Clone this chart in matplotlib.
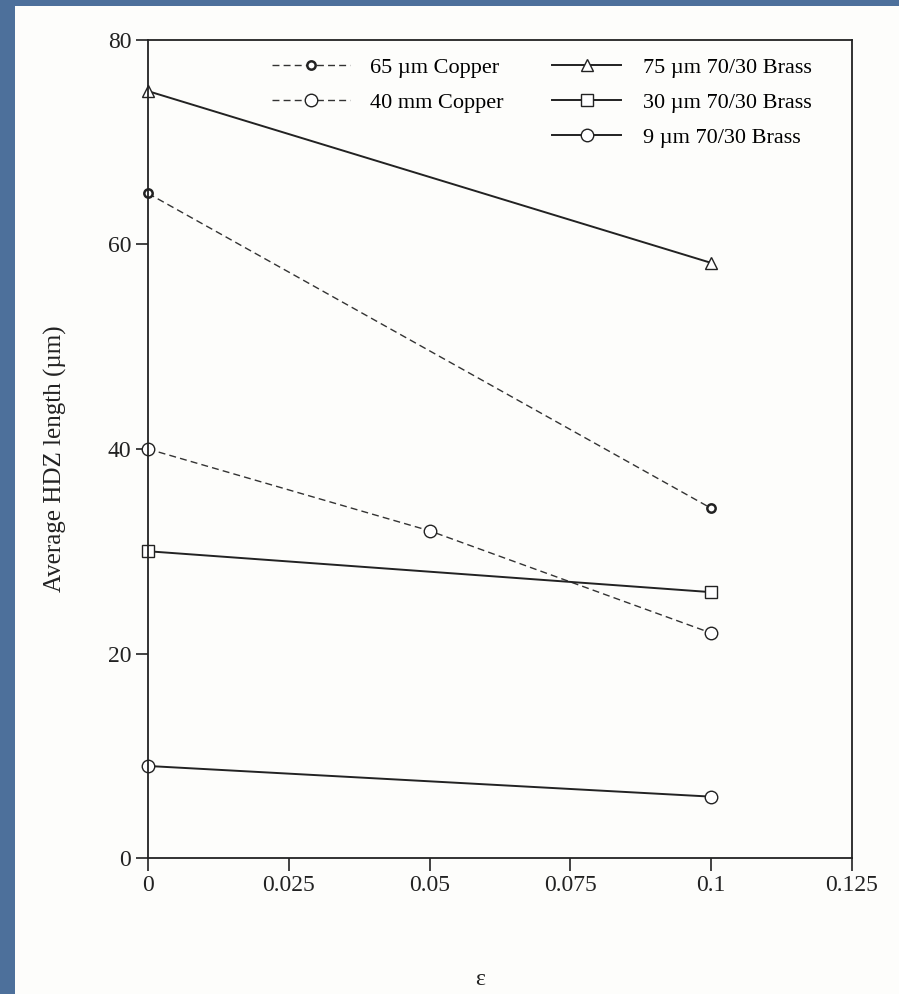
import matplotlib
matplotlib.use("Agg")
import matplotlib.pyplot as plt
from matplotlib.patches import Rectangle

# data
strain_two = [0.0, 0.1]
strain_three = [0.0, 0.05, 0.1]
cu65 = [65.0, 34.2]
cu40 = [40.0, 32.0, 22.0]
br75 = [75.0, 58.2]
br30 = [30.0, 26.0]
br9 = [9.0, 6.0]

x_ticks = [0, 0.025, 0.05, 0.075, 0.1, 0.125]
x_ticklabels = ["0", "0.025", "0.05", "0.075", "0.1", "0.125"]
y_ticks = [0, 20, 40, 60, 80]

plt.rcParams['font.family'] = ['Liberation Serif', 'DejaVu Serif']

fig = plt.figure(figsize=(8.99, 9.94), dpi=100)
fig.patch.set_facecolor('#4d709b')
# white page of the scan, behind the axes
fig.patches.append(Rectangle((15 / 899, 0), 1 - 15 / 899, 1 - 6 / 994,
                             transform=fig.transFigure, facecolor='#fdfdfb',
                             edgecolor='none', zorder=-5))

ax = fig.add_axes([148 / 899, 1 - 858 / 994, (852 - 148) / 899, (858 - 40) / 994])
ax.set_facecolor('#fdfdfb')

dash = (0, (5, 3))
l65, = ax.plot(strain_two, cu65, color='#333333', lw=1.0, linestyle=dash,
               marker='o', ms=6, mfc='white', mec='#222222', mew=1.8,
               label='65 \u00b5m Copper', clip_on=False)
l40, = ax.plot(strain_three, cu40, color='#333333', lw=1.0, linestyle=dash,
               marker='o', ms=9, mfc='white', mec='#222222', mew=1.0,
               label='40 mm Copper', clip_on=False)
l75, = ax.plot(strain_two, br75, color='#222222', lw=1.4, marker='^', ms=9,
               mfc='white', mec='#222222', mew=1.0, label='75 \u00b5m 70/30 Brass',
               clip_on=False)
l30, = ax.plot(strain_two, br30, color='#222222', lw=1.4, marker='s', ms=9,
               mfc='white', mec='#222222', mew=1.0, label='30 \u00b5m 70/30 Brass',
               clip_on=False)
l9, = ax.plot(strain_two, br9, color='#222222', lw=1.4, marker='o', ms=9,
              mfc='white', mec='#222222', mew=1.0, label='9 \u00b5m 70/30 Brass',
              clip_on=False)

ax.set_xlim(0, 0.125)
ax.set_ylim(0, 80)
ax.set_xticks(x_ticks)
ax.set_xticklabels(x_ticklabels)
ax.set_yticks(y_ticks)
ax.tick_params(direction='out', length=9, width=1.2, pad=3, labelsize=17, colors='#222222')
for s in ax.spines.values():
    s.set_linewidth(1.3)
    s.set_color('#222222')

ax.set_ylabel('Average HDZ length (\u00b5m)', fontsize=18, color='#222222')
ax.yaxis.set_label_coords(-0.115, 0.488)
ax.set_xlabel('\u03b5', fontsize=17, color='#222222')
ax.xaxis.set_label_coords(0.472, -0.136)

# copper legend (left) and brass legend (right)
leg1 = ax.legend([l65, l40], [l65.get_label(), l40.get_label()],
                 loc='upper left', bbox_to_anchor=(0.176, 0.979),
                 frameon=False, fontsize=16, handlelength=3.5, handletextpad=0.9,
                 labelspacing=0.66, borderpad=0, borderaxespad=0)
ax.add_artist(leg1)
ax.legend([l75, l30, l9], [l75.get_label(), l30.get_label(), l9.get_label()],
          loc='upper left', bbox_to_anchor=(0.574, 0.979),
          frameon=False, fontsize=16, handlelength=3.1, handletextpad=1.0,
          labelspacing=0.66, borderpad=0, borderaxespad=0)

fig.savefig('out.png', dpi=100, facecolor=fig.get_facecolor())
